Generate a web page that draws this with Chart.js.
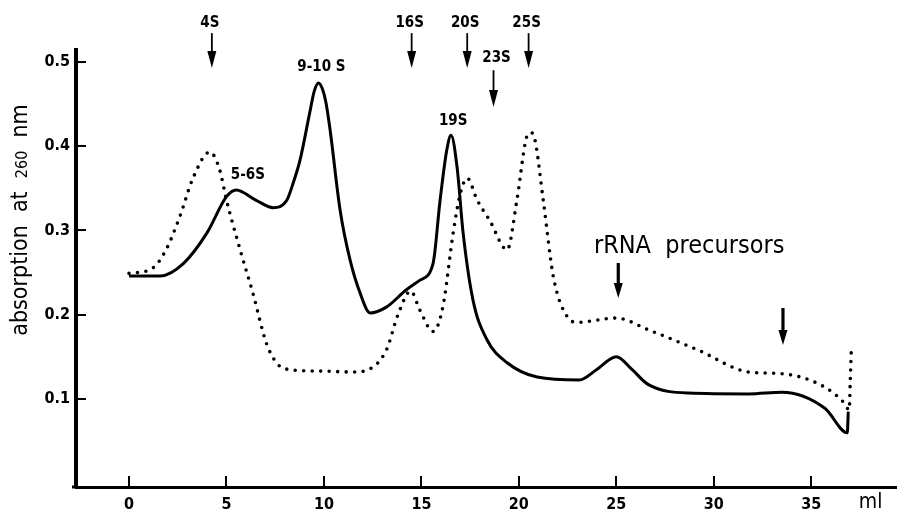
<!DOCTYPE html>
<html>
<head>
<meta charset="utf-8">
<script src="https://cdn.jsdelivr.net/npm/chart.js@4/dist/chart.umd.min.js"></script>
<style>
  html, body { margin: 0; padding: 0; background: #fff; }
</style>
</head>
<body>
<canvas id="profile" width="897" height="515"></canvas>
<script>
  'use strict';

  // Solid trace: elution volume (ml) and absorption at 260 nm.
  var solidMl = [0, 1.6, 2.8, 4.0, 5.0, 5.5, 6.5, 7.4, 8.1, 8.42, 8.77, 9.3, 9.5, 9.72, 9.92, 10.1, 10.3,
    10.83, 11.34, 11.85, 12.37, 13.2, 14.2, 14.93, 15.6, 15.96, 16.3, 16.52, 16.83, 17.14, 17.65,
    18.37, 19.4, 20.94, 23.1, 24.0, 25.0, 25.8, 26.65, 28.7, 31.8, 33.5, 35.7, 36.85, 36.9];
  var solidAbs = [0.246, 0.246, 0.261, 0.297, 0.340, 0.348, 0.336, 0.327, 0.336, 0.356, 0.383, 0.443, 0.465, 0.475, 0.468, 0.452, 0.422,
    0.324, 0.265, 0.226, 0.202, 0.209, 0.229, 0.241, 0.261, 0.336, 0.395, 0.413, 0.375, 0.297, 0.217,
    0.170, 0.143, 0.126, 0.1225, 0.135, 0.150, 0.135, 0.117, 0.107, 0.106, 0.108, 0.089, 0.060, 0.085];

  // Dotted trace.
  var dottedMl = [0, 1.2, 1.9, 2.6, 3.3, 4.15, 4.65, 5.0, 5.7, 6.35, 7.05, 7.6, 8.2, 10.0, 11.5, 12.3,
    13.2, 13.8, 14.45, 14.93, 15.6, 16.1, 16.63, 17.0, 17.35, 17.86, 18.5, 19.4,
    19.9, 20.4, 20.6, 20.8, 21.25, 21.77, 22.5, 23.0, 25.0, 26.65, 29.2, 31.8, 33.5, 35.7, 36.7, 36.95, 37.0, 37.05];
  var dottedAbs = [0.249, 0.255, 0.277, 0.316, 0.363, 0.393, 0.372, 0.336, 0.277, 0.226, 0.166, 0.142, 0.135, 0.133, 0.132, 0.135,
    0.158, 0.200, 0.228, 0.205, 0.180, 0.209, 0.297, 0.344, 0.362, 0.336, 0.312, 0.277,
    0.336, 0.411, 0.416, 0.410, 0.336, 0.245, 0.197, 0.191, 0.196, 0.182, 0.158, 0.132, 0.130, 0.114, 0.095, 0.087, 0.120, 0.155];

  var xTicks = [0, 5, 10, 15, 20, 25, 30, 35];
  var yTicks = [0.1, 0.2, 0.3, 0.4, 0.5];

  // Sedimentation markers above the plot.
  var markerLabels = ['4S', '16S', '20S', '25S', '23S'];
  var markerMl = [4.25, 14.5, 17.35, 20.5, 18.7];
  var markerRow = [0, 0, 0, 0, 1];

  // Peak names.
  var peakLabels = ['9-10 S', '5-6S', '19S'];
  var peakMl = [9.87, 6.1, 16.63];
  var peakAbs = [0.494, 0.366, 0.43];

  // rRNA precursor arrows.
  var precursorMl = [25.1, 33.55];

  var FONT = "'Liberation Sans Narrow', 'DejaVu Sans Condensed', 'Liberation Sans', sans-serif";

  function toPoints(xs, ys) {
    return xs.map(function (x, i) { return { x: x, y: ys[i] }; });
  }

  function drawArrow(ctx, x, y1, y2, lw, headW, headL) {
    ctx.save();
    ctx.strokeStyle = '#000';
    ctx.fillStyle = '#000';
    ctx.lineWidth = lw;
    ctx.beginPath();
    ctx.moveTo(x, y1);
    ctx.lineTo(x, y2 - headL + 2);
    ctx.stroke();
    ctx.beginPath();
    ctx.moveTo(x - headW / 2, y2 - headL);
    ctx.lineTo(x + headW / 2, y2 - headL);
    ctx.lineTo(x, y2);
    ctx.closePath();
    ctx.fill();
    ctx.restore();
  }

  var decorations = {
    id: 'decorations',
    afterDraw: function (chart) {
      var ctx = chart.ctx;
      var xs = chart.scales.x;
      var ys = chart.scales.y;
      var area = chart.chartArea;

      // Inward tick marks.
      ctx.save();
      ctx.strokeStyle = '#000';
      ctx.lineWidth = 2;
      yTicks.forEach(function (v) {
        var py = Math.round(ys.getPixelForValue(v));
        ctx.beginPath();
        ctx.moveTo(area.left, py);
        ctx.lineTo(area.left + 10, py);
        ctx.stroke();
      });
      xTicks.forEach(function (v) {
        var px = Math.round(xs.getPixelForValue(v));
        ctx.beginPath();
        ctx.moveTo(px, area.bottom);
        ctx.lineTo(px, area.bottom - 11);
        ctx.stroke();
      });
      // x axis runs a little past the y axis on the left
      ctx.lineWidth = 3;
      ctx.beginPath();
      ctx.moveTo(area.left - 4, area.bottom);
      ctx.lineTo(area.left, area.bottom);
      ctx.stroke();
      ctx.restore();

      // Y axis title with the smaller "260".
      ctx.save();
      var parts = [
        { t: 'absorption  at  ', f: '23px ' + FONT },
        { t: '260', f: '16px ' + FONT },
        { t: '  nm', f: '23px ' + FONT }
      ];
      var total = 0;
      parts.forEach(function (p) { ctx.font = p.f; p.w = ctx.measureText(p.t).width; total += p.w; });
      ctx.translate(27, 220);
      ctx.rotate(-Math.PI / 2);
      ctx.fillStyle = '#000';
      ctx.textBaseline = 'alphabetic';
      var cx = -total / 2;
      parts.forEach(function (p) { ctx.font = p.f; ctx.fillText(p.t, cx, 0); cx += p.w; });
      ctx.restore();

      ctx.save();
      ctx.fillStyle = '#000';
      ctx.textAlign = 'center';
      ctx.textBaseline = 'middle';

      // Marker arrows with labels.
      ctx.font = 'bold 15px ' + FONT;
      markerLabels.forEach(function (label, i) {
        var px = xs.getPixelForValue(markerMl[i]);
        if (markerRow[i] === 0) {
          ctx.fillText(label, px - 2, ys.getPixelForValue(0.546));
          drawArrow(ctx, px, ys.getPixelForValue(0.534), ys.getPixelForValue(0.4925), 1.8, 9, 17);
        } else {
          ctx.fillText(label, px + 3, ys.getPixelForValue(0.5044));
          drawArrow(ctx, px, ys.getPixelForValue(0.490), ys.getPixelForValue(0.4463), 1.8, 9, 17);
        }
      });

      // Peak names.
      ctx.font = 'bold 15px ' + FONT;
      peakLabels.forEach(function (label, i) {
        ctx.fillText(label, xs.getPixelForValue(peakMl[i]), ys.getPixelForValue(peakAbs[i]));
      });

      // rRNA precursors.
      ctx.font = '25px ' + FONT;
      ctx.textAlign = 'left';
      ctx.fillText('rRNA  precursors', xs.getPixelForValue(23.85), ys.getPixelForValue(0.2814));
      drawArrow(ctx, xs.getPixelForValue(precursorMl[0]), ys.getPixelForValue(0.2613), ys.getPixelForValue(0.2198), 3.2, 9, 15);
      drawArrow(ctx, xs.getPixelForValue(precursorMl[1]), ys.getPixelForValue(0.2079), ys.getPixelForValue(0.164), 3.2, 9, 15);

      // Unit on the x axis.
      ctx.font = '21px ' + FONT;
      ctx.textAlign = 'center';
      ctx.fillText('ml', xs.getPixelForValue(38.05), 503);
      ctx.restore();
    }
  };

  var ctx = document.getElementById('profile').getContext('2d');
  var chart = new Chart(ctx, {
    type: 'line',
    data: {
      datasets: [
        {
          data: toPoints(solidMl, solidAbs),
          borderColor: '#000',
          borderWidth: 3,
          pointRadius: 0,
          fill: false,
          cubicInterpolationMode: 'monotone'
        },
        {
          data: toPoints(dottedMl, dottedAbs),
          borderColor: '#000',
          borderWidth: 3.6,
          borderDash: [0, 8.5],
          borderCapStyle: 'round',
          pointRadius: 0,
          fill: false,
          cubicInterpolationMode: 'monotone'
        }
      ]
    },
    options: {
      responsive: false,
      devicePixelRatio: 1,
      animation: false,
      layout: { padding: { top: 50, left: 0, right: 0, bottom: 0 } },
      plugins: { legend: { display: false }, tooltip: { enabled: false } },
      scales: {
        x: {
          type: 'linear',
          min: -2.72,
          max: 39.4,
          afterBuildTicks: function (scale) {
            scale.ticks = xTicks.map(function (v) { return { value: v }; });
          },
          afterFit: function (scale) { scale.height = 28; },
          grid: { drawOnChartArea: false, drawTicks: false },
          border: { display: true, color: '#000', width: 3 },
          ticks: {
            color: '#000',
            font: { family: FONT, size: 16, weight: 'bold' },
            padding: 8,
            maxRotation: 0,
            autoSkip: false
          }
        },
        y: {
          type: 'linear',
          min: -0.0044,
          max: 0.514,
          afterBuildTicks: function (scale) {
            scale.ticks = yTicks.map(function (v) { return { value: v }; });
          },
          afterFit: function (scale) { scale.width = 76; },
          grid: { drawOnChartArea: false, drawTicks: false },
          border: { display: true, color: '#000', width: 4 },
          ticks: {
            color: '#000',
            font: { family: FONT, size: 16, weight: 'bold' },
            padding: 6,
            callback: function (v) { return v.toFixed(1); }
          }
        }
      }
    },
    plugins: [decorations]
  });
</script>
</body>
</html>
